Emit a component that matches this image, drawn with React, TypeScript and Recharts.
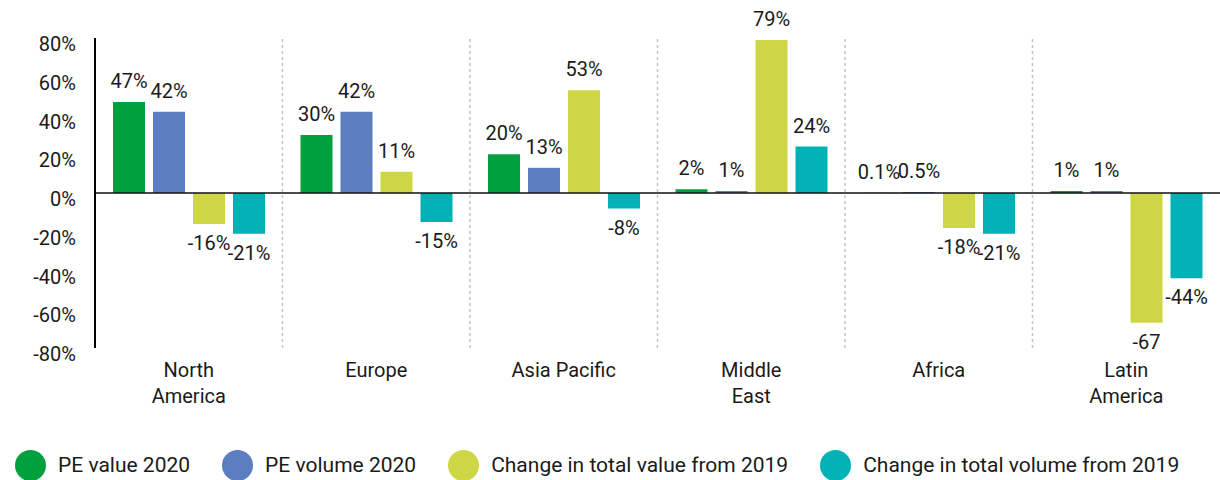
import type { JSX } from "react";
import {
  Bar,
  BarChart,
  LabelList,
  Legend,
  ReferenceLine,
  XAxis,
  YAxis,
} from "recharts";

const regions = ["North America", "Europe", "Asia Pacific", "Middle East", "Africa", "Latin America"];
const regionLines = [["North", "America"], ["Europe"], ["Asia Pacific"], ["Middle", "East"], ["Africa"], ["Latin", "America"]];

const peValue = [47, 30, 20, 2, 0.1, 1];
const peVolume = [42, 42, 13, 1, 0.5, 1];
const valueChange = [-16, 11, 53, 79, -18, -67];
const volumeChange = [-21, -15, -8, 24, -21, -44];

const peValueLabels = ["47%", "30%", "20%", "2%", "0.1%", "1%"];
const peVolumeLabels = ["42%", "42%", "13%", "1%", "0.5%", "1%"];
const valueChangeLabels = ["-16%", "11%", "53%", "79%", "-18%", "-67"];
const volumeChangeLabels = ["-21%", "-15%", "-8%", "24%", "-21%", "-44%"];

const yTicks = [-80, -60, -40, -20, 0, 20, 40, 60, 80];

const FONT = "Roboto, 'Noto Sans', sans-serif";
const TEXT = "#1a1a1a";

const series = [
  { key: "peValue", label: "peValueLabel", name: "PE value 2020", color: "#00A03F" },
  { key: "peVolume", label: "peVolumeLabel", name: "PE volume 2020", color: "#5B7EC1" },
  { key: "valueChange", label: "valueChangeLabel", name: "Change in total value from 2019", color: "#CDD746" },
  { key: "volumeChange", label: "volumeChangeLabel", name: "Change in total volume from 2019", color: "#00B1B5" },
];

const data = regions.map((region, i) => ({
  region,
  slot: i,
  peValue: peValue[i],
  peVolume: peVolume[i],
  valueChange: valueChange[i],
  volumeChange: volumeChange[i],
  peValueLabel: peValueLabels[i],
  peVolumeLabel: peVolumeLabels[i],
  valueChangeLabel: valueChangeLabels[i],
  volumeChangeLabel: volumeChangeLabels[i],
}));

// boundaries between regions, on a hidden 0..n axis
const separators = regions.slice(1).map((_, i) => i + 1);

const BarLabel = (props: any): JSX.Element => {
  const { x, y, width, height, value } = props;
  const text = String(value);
  const top = Math.min(y, y + height);
  const bottom = Math.max(y, y + height);
  const negative = text.startsWith("-");
  return (
    <text
      x={x + width / 2}
      y={negative ? bottom + 26 : top - 14}
      textAnchor="middle"
      fontFamily={FONT}
      fontSize={20}
      fill={TEXT}
    >
      {text}
    </text>
  );
};

const YTick = (props: any): JSX.Element => {
  const { x, y, payload } = props;
  return (
    <text x={x} y={y + 6} textAnchor="end" dominantBaseline="central" fontFamily={FONT} fontSize={20} fill={TEXT}>
      {`${payload.value}%`}
    </text>
  );
};

const XTick = (props: any): JSX.Element => {
  const { x, y, index } = props;
  const lines = regionLines[index] ?? [];
  return (
    <text x={x} y={y + 29} textAnchor="middle" fontFamily={FONT} fontSize={20} fill={TEXT}>
      {lines.map((line, i) => (
        <tspan key={line} x={x} dy={i === 0 ? 0 : 26}>
          {line}
        </tspan>
      ))}
    </text>
  );
};

const LegendContent = (): JSX.Element => (
  <div
    style={{
      display: "flex",
      alignItems: "center",
      height: 30,
      paddingLeft: 15,
      gap: 32,
      fontFamily: FONT,
      fontSize: 21,
      color: TEXT,
    }}
  >
    {series.map((s) => (
      <div key={s.key} style={{ display: "flex", alignItems: "center" }}>
        <span
          style={{
            width: 31,
            height: 31,
            borderRadius: "50%",
            background: s.color,
            marginRight: 12,
            flexShrink: 0,
          }}
        />
        <span style={{ whiteSpace: "nowrap" }}>{s.name}</span>
      </div>
    ))}
  </div>
);

export default function App(): JSX.Element {
  return (
    <div style={{ position: "absolute", top: 0, left: 0, width: 1220, height: 480, background: "#fff" }}>
      <BarChart
        width={1220}
        height={480}
        data={data}
        margin={{ top: 38, right: 0, bottom: 0, left: 0 }}
        barSize={32}
        barGap={8}
      >
        <XAxis
          dataKey="region"
          axisLine={false}
          tickLine={false}
          tickSize={0}
          tickMargin={0}
          height={102}
          interval={0}
          tick={<XTick />}
        />
        <XAxis
          xAxisId="sep"
          dataKey="slot"
          type="number"
          domain={[0, regions.length]}
          allowDataOverflow
          hide
        />
        <YAxis
          domain={[-80, 80]}
          ticks={yTicks}
          width={95}
          interval={0}
          tickLine={false}
          tickSize={0}
          tickMargin={19}
          axisLine={{ stroke: "#000", strokeWidth: 2 }}
          tick={<YTick />}
        />
        {separators.map((s) => (
          <ReferenceLine
            key={s}
            xAxisId="sep"
            x={s}
            stroke="#c4c4c4"
            strokeWidth={1.5}
            strokeDasharray="3 3"
          />
        ))}
        <ReferenceLine y={0} stroke="#111" strokeWidth={1.5} />
        {series.map((s) => (
          <Bar key={s.key} dataKey={s.key} name={s.name} fill={s.color} isAnimationActive={false}>
            <LabelList dataKey={s.label} content={<BarLabel />} />
          </Bar>
        ))}
        <Legend verticalAlign="bottom" align="left" content={<LegendContent />} wrapperStyle={{ height: 30 }} />
      </BarChart>
    </div>
  );
}
